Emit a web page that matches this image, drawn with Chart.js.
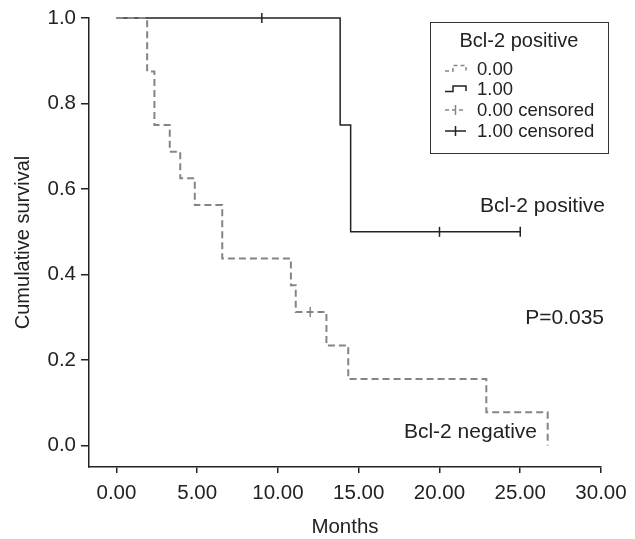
<!DOCTYPE html>
<html>
<head>
<meta charset="utf-8">
<script src="https://cdn.jsdelivr.net/npm/chart.js@4/dist/chart.umd.min.js"></script>
<style>
  html, body { margin: 0; padding: 0; background: #fff; }
  #wrap { width: 635px; height: 539px; }
</style>
</head>
<body>
<div id="wrap"><canvas id="kmChart" width="635" height="539"></canvas></div>
<script>
// Kaplan-Meier survival by Bcl-2 status (0.00 = negative, 1.00 = positive)
const negMonths   = [0, 1.9, 2.35, 3.3, 3.95, 4.85, 6.55, 10.8, 11.1, 13.0, 14.35, 22.9, 26.7];
const negSurvival = [1, 0.875, 0.75, 0.6875, 0.625, 0.5625, 0.4375, 0.375, 0.3125, 0.234, 0.156, 0.078, 0];
const negCensorMonths   = [12];
const negCensorSurvival = [0.3125];

const posMonths   = [0, 13.85, 14.5, 25];
const posSurvival = [1, 0.75, 0.5, 0.5];
const posCensorMonths   = [9, 20, 25];
const posCensorSurvival = [1, 0.5, 0.5];

const xTicks = [0, 5, 10, 15, 20, 25, 30];
const yTicks = [0, 0.2, 0.4, 0.6, 0.8, 1.0];

const legendTitle = 'Bcl-2 positive';
const legendLabels = ['0.00', '1.00', '0.00 censored', '1.00 censored'];
const posLabel = 'Bcl-2 positive';
const negLabel = 'Bcl-2 negative';
const pValueText = 'P=0.035';

const FONT = '"Liberation Sans", Arial, sans-serif';
const INK = '#222';
const GRAY = '#858585';

const toPoints = (xs, ys) => xs.map((x, i) => ({ x: x, y: ys[i] }));

// legend + text labels drawn on top of the plot
const overlayPlugin = {
    id: 'overlay',
    afterDraw(chart) {
        const ctx = chart.ctx;
        ctx.save();

        ctx.fillStyle = INK;
        ctx.font = '21px ' + FONT;
        ctx.textAlign = 'right';
        ctx.textBaseline = 'alphabetic';
        ctx.fillText(posLabel, 605, 212);
        ctx.fillText(pValueText, 604, 324);
        ctx.fillText(negLabel, 537, 438);

        // legend box
        ctx.strokeStyle = '#333';
        ctx.lineWidth = 1;
        ctx.strokeRect(430.5, 22.5, 178, 131);

        ctx.font = '20px ' + FONT;
        ctx.textAlign = 'center';
        ctx.fillText(legendTitle, 519, 46.5);

        const rows = [74.5, 95, 116, 137];
        ctx.font = '18.5px ' + FONT;
        ctx.textAlign = 'left';
        legendLabels.forEach((label, i) => {
            const b = rows[i];
            ctx.fillStyle = INK;
            ctx.fillText(label, 477, b);

            ctx.lineWidth = 1.5;
            if (i === 0 || i === 1) {
                ctx.strokeStyle = i === 0 ? GRAY : INK;
                ctx.setLineDash(i === 0 ? [4, 3] : []);
                ctx.beginPath();
                ctx.moveTo(445, b - 3.5);
                ctx.lineTo(453, b - 3.5);
                ctx.lineTo(453, b - 9);
                ctx.lineTo(466, b - 9);
                ctx.lineTo(466, b - 4);
                ctx.stroke();
            } else {
                ctx.strokeStyle = i === 2 ? GRAY : INK;
                ctx.setLineDash(i === 2 ? [4, 3] : []);
                ctx.beginPath();
                ctx.moveTo(445, b - 6);
                ctx.lineTo(466, b - 6);
                ctx.stroke();
                ctx.setLineDash([]);
                ctx.beginPath();
                ctx.moveTo(455.5, b - 11);
                ctx.lineTo(455.5, b - 1);
                ctx.stroke();
            }
        });
        ctx.setLineDash([]);
        ctx.restore();
    }
};

new Chart(document.getElementById('kmChart'), {
    type: 'scatter',
    data: {
        datasets: [
            {
                label: '0.00',
                data: toPoints(negMonths, negSurvival),
                showLine: true,
                stepped: 'before',
                borderColor: GRAY,
                borderWidth: 2,
                borderDash: [7, 4],
                pointRadius: 0,
                clip: false
            },
            {
                label: '0.00 censored',
                data: toPoints(negCensorMonths, negCensorSurvival),
                showLine: false,
                pointStyle: 'line',
                rotation: 90,
                pointRadius: 5,
                borderColor: GRAY,
                borderWidth: 1.5,
                clip: false
            },
            {
                label: '1.00',
                data: toPoints(posMonths, posSurvival),
                showLine: true,
                stepped: 'before',
                borderColor: INK,
                borderWidth: 1.5,
                pointRadius: 0,
                clip: false
            },
            {
                label: '1.00 censored',
                data: toPoints(posCensorMonths, posCensorSurvival),
                showLine: false,
                pointStyle: 'line',
                rotation: 90,
                pointRadius: 5,
                borderColor: INK,
                borderWidth: 1.5,
                clip: false
            }
        ]
    },
    options: {
        responsive: false,
        animation: false,
        devicePixelRatio: 1,
        layout: { padding: { left: 0, top: 18, right: 34, bottom: 0 } },
        plugins: {
            legend: { display: false },
            tooltip: { enabled: false }
        },
        scales: {
            x: {
                type: 'linear',
                min: -1.7,
                max: 30,
                afterBuildTicks: (scale) => { scale.ticks = xTicks.map(v => ({ value: v })); },
                afterFit: (scale) => { scale.height = 72; },
                grid: { drawOnChartArea: false, drawTicks: true, tickLength: 6, color: INK, lineWidth: 1.5 },
                border: { display: true, color: INK, width: 1.5 },
                ticks: {
                    color: INK,
                    padding: 8,
                    maxRotation: 0,
                    font: { family: FONT, size: 20.5 },
                    callback: (v) => Number(v).toFixed(2)
                },
                title: {
                    display: true,
                    text: 'Months',
                    color: INK,
                    font: { family: FONT, size: 20.5, lineHeight: 1.1 },
                    padding: { top: 0, bottom: 0 }
                }
            },
            y: {
                type: 'linear',
                min: -0.05,
                max: 1.0,
                afterBuildTicks: (scale) => { scale.ticks = yTicks.map(v => ({ value: v })); },
                afterFit: (scale) => { scale.width = 89; },
                grid: { drawOnChartArea: false, drawTicks: true, tickLength: 8, color: INK, lineWidth: 1.5 },
                border: { display: true, color: INK, width: 1.5 },
                ticks: {
                    color: INK,
                    padding: 5,
                    font: { family: FONT, size: 20.5 },
                    callback: (v) => Number(v).toFixed(1)
                },
                title: {
                    display: true,
                    text: 'Cumulative survival',
                    color: INK,
                    font: { family: FONT, size: 20, lineHeight: 1.2 },
                    padding: { top: 11, bottom: 0 }
                }
            }
        }
    },
    plugins: [overlayPlugin]
});
</script>
</body>
</html>
